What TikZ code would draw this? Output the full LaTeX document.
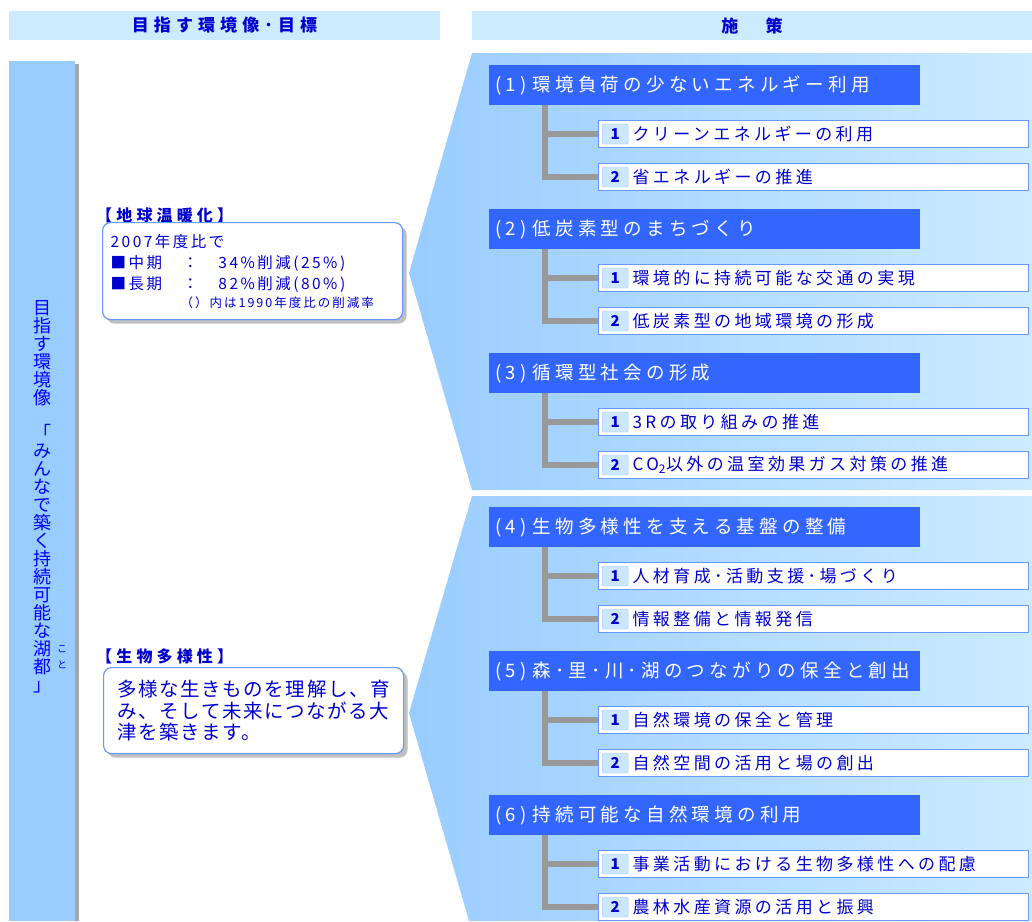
\documentclass[tikz,border=0pt]{standalone}
\usepackage{fontspec}
\usepackage{tikz}
\usetikzlibrary{shadows}
\newfontfamily\jp{Noto Sans CJK JP}
\newcommand\tightlines{\lineskiplimit=-20pt\relax}
\definecolor{hdrfill}{RGB}{204,235,255}
\definecolor{barblue}{RGB}{153,204,255}
\definecolor{headblue}{RGB}{51,102,255}
\definecolor{edgeblue}{RGB}{102,153,255}
\definecolor{txtblue}{RGB}{0,0,204}
\definecolor{tagfill}{RGB}{204,230,255}

\begin{document}
\begin{tikzpicture}
          [x = 1pt, y = -1pt,
           hdr/.style = {fill = hdrfill, minimum height = 29pt, inner sep = 0pt, text = txtblue,
                         font = \jp\bfseries\fontsize{17}{19}\selectfont\addfontfeature{LetterSpace=30}},
           head/.style = {anchor = north west, fill = headblue, text = white, minimum height = 40pt,
                          text width = 419pt, inner xsep = 6pt, inner ysep = 0pt, align = left,
                          font = \jp\fontsize{18.5}{20}\selectfont\addfontfeature{LetterSpace=23}},
           item/.style = {anchor = west, fill = white, draw = edgeblue, line width = 1.2pt,
                          minimum height = 27pt, text width = 362pt, inner xsep = 34pt, inner ysep = 0pt,
                          align = left, text = txtblue,
                          font = \jp\fontsize{17}{18}\selectfont\addfontfeature{LetterSpace=20}},
           tag/.style = {anchor = west, fill = tagfill, draw = barblue, rounded corners = 2pt,
                         minimum width = 26pt, minimum height = 20pt, inner sep = 0pt, text = txtblue,
                         font = \jp\bfseries\fontsize{15}{16}\selectfont},
           conn/.style = {draw = gray!80, line width = 6pt},
           goal/.style = {anchor = north west, fill = white, draw = edgeblue, line width = 1.2pt,
                          rounded corners = 8pt, minimum width = 300pt, align = left, text = txtblue,
                          drop shadow = {shadow xshift = 4pt, shadow yshift = -4pt, fill = gray!50, opacity = 1}},
           lbl/.style = {anchor = west, inner sep = 0pt, text = txtblue,
                         font = \jp\bfseries\fontsize{16}{17}\selectfont\addfontfeature{LetterSpace=26}}]
          \fill[white] (0,0) rectangle (1032,921);
          \useasboundingbox (0,0) rectangle (1032,921);

          \node[hdr, minimum width = 431pt] (goalhdr) at (224.5,25.5) {目指す環境像･目標};
          \node[hdr, minimum width = 560pt] (planhdr) at (752,25.5) {施　策};

          \fill[gray!70] (13,64) rectangle (79,921);
          \fill[barblue] (9,61) rectangle (75,921);
          \node[anchor = north, inner sep = 0pt, text = blue, align = center,
                font = \jp\fontsize{18}{18}\selectfont\tightlines] (vision) at (42,300)
            {目\\指\\す\\環\\境\\像\\[17pt]「\\み\\ん\\な\\で\\築\\く\\持\\続\\可\\能\\な\\湖\\都\\」};
          \node[inner sep = 0pt, text = blue, align = center,
                font = \jp\fontsize{10}{16}\selectfont\tightlines] (ruby) at (62,657) {こ\\と};

          \shade[left color = barblue, right color = hdrfill]
            (472,53) -- (1032,53) -- (1032,490) -- (472,490) -- (409,273) -- cycle;
          \shade[left color = barblue, right color = hdrfill]
            (472,496) -- (1032,496) -- (1032,921) -- (469,921) -- (409,713) -- cycle;

          \node[lbl] (warmlbl) at (96,215) {【地球温暖化】};
          \node[goal, minimum height = 97pt, text width = 284pt, inner xsep = 8pt,
                font = \jp\fontsize{15.5}{21}\selectfont\addfontfeature{LetterSpace=16}] (warm) at (102,222)
            {2007年度比で\\■中期　：　34\%削減(25\%)\\■長期　：　82\%削減(80\%)\\[-3pt]
             \hspace*{70pt}{\fontsize{12.5}{14}\selectfont （）内は1990年度比の削減率}};

          \node[lbl] (biolbl) at (96,656) {【生物多様性】};
          \node[goal, minimum height = 86pt,
                font = \jp\fontsize{19.5}{21.5}\selectfont\addfontfeature{LetterSpace=8}] (bio) at (103,667)
            {多様な生きものを理解し、育\\み、そして未来につながる大\\津を築きます。};

          \foreach \n/\ytop/\htxt/\itxta/\itxtb in {
              1/65/{(1) 環境負荷の少ないエネルギー利用}/{クリーンエネルギーの利用}/{省エネルギーの推進},
              2/209/{(2) 低炭素型のまちづくり}/{環境的に持続可能な交通の実現}/{低炭素型の地域環境の形成},
              3/353/{(3) 循環型社会の形成}/{3Rの取り組みの推進}/{CO\textsubscript{2}以外の温室効果ガス対策の推進},
              4/507/{(4) 生物多様性を支える基盤の整備}/{人材育成･活動支援･場づくり}/{情報整備と情報発信},
              5/651/{(5) 森･里･川･湖のつながりの保全と創出}/{自然環境の保全と管理}/{自然空間の活用と場の創出},
              6/795/{(6) 持続可能な自然環境の利用}/{事業活動における生物多様性への配慮}/{農林水産資源の活用と振興}}
          {
            \node[head] (pol\n) at (489,\ytop) {\htxt};
            \node[item] (act\n1) at (598,\ytop+69) {\itxta};
            \node[item] (act\n2) at (598,\ytop+112) {\itxtb};
            \node[tag] (tag\n1) at ([xshift = 4pt]act\n1.west) {1};
            \node[tag] (tag\n2) at ([xshift = 4pt]act\n2.west) {2};
            \draw[conn] ([xshift = 56pt]pol\n.south west) |- (act\n1.west)
                        ([xshift = 56pt]pol\n.south west) |- (act\n2.west);
          }
        \end{tikzpicture}
\end{document}
